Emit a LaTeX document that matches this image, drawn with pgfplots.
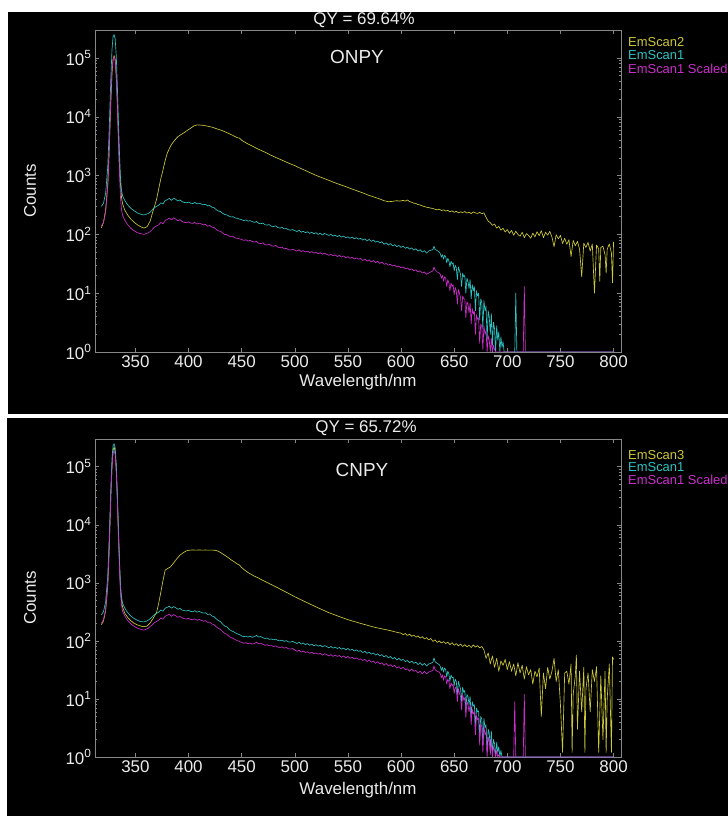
\documentclass[border=0pt]{standalone}
\usepackage{fontspec}
\setmainfont{Liberation Sans}
\usepackage{pgfplots}
\pgfplotsset{compat=1.18}
\definecolor{ylw}{RGB}{205,200,55}
\definecolor{cyn}{RGB}{45,195,195}
\definecolor{mag}{RGB}{205,45,205}
\definecolor{axgray}{RGB}{135,135,135}
\definecolor{txt}{RGB}{235,235,235}
\pgfplotsset{mypanel/.style={
  scale only axis, width=526bp,
  axis background/.style={fill=black},
  axis line style={draw=axgray, line width=0.6bp},
  every tick/.style={draw=axgray, line width=0.5bp},
  major tick length=4bp, minor tick length=2bp,
  tick align=inside,
  xtick={350,400,450,500,550,600,650,700,750,800},
  xticklabels={350,400,450,500,550,600,650,700,750,800},
  minor x tick num=0,
  ytick={1,10,100,1000,10000,100000},
  yticklabels={10\textsuperscript{0},10\textsuperscript{1},10\textsuperscript{2},10\textsuperscript{3},10\textsuperscript{4},10\textsuperscript{5}},
  tick label style={font=\fontsize{17}{17}\selectfont, text=txt},
  label style={font=\fontsize{17}{17}\selectfont, text=txt},
  xlabel={Wavelength/nm}, ylabel={Counts},
  ylabel style={at={(axis description cs:-0.1236,0.5)}, anchor=center},
  every axis plot/.append style={line width=0.65bp, mark=none, line join=round},
}}
\begin{document}
\begin{tikzpicture}
\fill[white] (0,0) rectangle (728bp,816bp);
\fill[black] (8bp,402bp) rectangle (728bp,804bp);
\fill[black] (7bp,0) rectangle (728bp,398bp);
% ---------------- top panel: ONPY ----------------
\begin{axis}[ymode=log, xmin=312, xmax=807, ymin=1, ymax=3e5, mypanel,
  at={(95bp,464bp)}, anchor=south west, height=322bp,
  xlabel style={at={(axis description cs:0.5,-0.093)}, anchor=center}]
\addplot[ylw] coordinates {(318,130)(320,160)(322,260)(324,700)(325,1800)(326,6000)(327,20000)(328,55000)(329,95000)(330,110000)(331,95000)(332,50000)(333,18000)(334,5000)(335,1500)(336,700)(337,420)(338,330)(340,260)(343,210)(346,180)(349,160)(352,145)(355,135)(358,128)(361,135)(364,170)(366,230)(368,300)(370,400)(372,600)(374,900)(376,1250)(378,1800)(380,2400)(382,2900)(384,3400)(386,3800)(388,4200)(390,4600)(393,5000)(396,5400)(399,5900)(402,6400)(405,7000)(408,7300)(411,7250)(414,7150)(417,7000)(420,6800)(423,6600)(426,6300)(429,6050)(432,5800)(435,5500)(438,5200)(441,4900)(444,4600)(446,4400)(448,4350)(450,4000)(453,3700)(456,3450)(459,3250)(462,3050)(465,2850)(468,2700)(471,2550)(474,2400)(477,2250)(480,2120)(484,1970)(488,1830)(492,1700)(496,1580)(500,1480)(505,1340)(510,1220)(515,1110)(520,1010)(525,930)(530,860)(535,790)(540,730)(545,680)(550,630)(555,580)(560,540)(565,500)(570,460)(575,430)(580,400)(584,375)(588,360)(592,365)(596,375)(598,368)
(600,372)(602,380)(604,368)(606,385)(608,362)(610,352)(612,340)(614,336)(616,322)(618,316)(620,305)(622,298)(624,290)(626,286)(628,280)(630,276)(632,268)(634,262)(636,268)(638,255)(640,262)(642,250)(644,256)(646,243)(648,252)(650,238)(652,247)(654,233)(656,241)(658,236)(660,245)(662,230)(664,239)(666,226)(668,241)(670,232)(672,227)(674,237)(676,225)(678,233)(680,195)(682,168)(684,158)(686,142)(688,150)(690,128)(692,137)(694,118)(696,127)(698,110)(700,121)(702,104)(704,117)(706,97)(708,113)(710,100)(712,93)(714,109)(716,88)(718,103)(720,96)(722,86)(724,105)(726,91)(728,111)(730,95)(732,116)(734,88)(736,109)(738,97)(740,113)(742,90)(744,62)(746,99)(748,84)(750,96)(752,70)(754,86)(756,68)(758,81)(760,42)(762,79)(764,64)(766,76)(768,56)(770,19)(772,71)(774,60)(776,73)(778,52)(780,69)(782,10)(784,66)(786,57)(787,16)(788,60)(790,63)(792,45)(793,22)(794,56)(796,69)(798,48)(799,15)(800,75)};
\addplot[cyn] coordinates {(318,300)(320,340)(322,500)(324,1400)(325,4000)(326,14000)(327,50000)(328,140000)(329,230000)(330,250000)(331,210000)(332,110000)(333,35000)(334,9000)(335,2500)(336,900)(337,560)(338,450)(340,380)(342,330)(344,300)(346,275)(348,258)(350,245)(352,232)(354,224)(356,218)(358,214)(360,220)(362,226)(364,240)(366,262)(368,285)(370,300)(372,315)(374,345)(376,330)(378,375)(380,390)(382,410)(384,380)(386,415)(388,395)(390,370)(392,385)(394,360)(396,350)(398,345)(400,355)(402,340)(404,335)(406,350)(408,330)(410,340)(412,330)(414,320)(416,325)(418,305)(420,310)(422,290)(424,285)(426,265)(428,250)(430,245)(432,230)(434,218)(436,215)(438,205)(440,198)(442,200)(444,190)(446,188)(448,182)(450,178)(452,172)(454,176)(456,168)(458,172)(460,165)(462,160)(464,166)(466,155)(468,152)(470,156)(472,146)(474,144)(476,147)(478,138)(480,136)(482,140)(484,131)(486,128)(488,132)(490,124)(492,126)(494,120)(496,118)(498,121)(500,116)(502,112)(504,118)(506,109)(508,113)(510,107)(512,111)(514,104)(516,109)(518,102)(520,107)(522,100)(524,105)(526,98)(528,104)(530,100)(532,96)(534,100)(536,94)(538,97)(540,92)(542,96)(544,90)(546,93)(548,88)(550,91)(552,86)(554,90)(556,84)(558,88)(560,83)(562,86)(564,80)(566,84)(568,78)(570,82)(572,76)(574,80)(576,74)(578,77)(580,72)(582,75)(584,68)(586,72)(588,66)(590,70)(592,64)(594,67)(596,62)(598,65)(600,60)(602,63)(604,58)(606,61)(608,56)(610,59)(612,54)(614,57)(616,52)(618,55)(620,50)(622,53)(624,48)(626,52)(628,54)(630,55)(631,63)(632,56)(634,53)(636,50)(637,47)(638,41)(639,45)(640,38)(641,44)(642,42)(643,33)(644,39)(645,36)(646,28)(647,35)(648,31)(649,33)(650,24)(651,30)(652,27)(653,17)(654,28)(655,24)(656,21)(657,13)(658,22)(659,19)(660,20)(661,10)(662,18)(663,16)(664,12)(665,17)(666,8)(667,14)(668,11)(669,13)(670,5)(671,11)(672,9)(673,10)(674,3.5)(675,8)(676,7)(677,2.5)(678,7.5)(679,5)(680,6)(681,1.6)(682,5)(683,4)(684,2)(685,4.5)(686,1.3)(687,3.2)(688,2.5)(689,1)(690,2.8)(691,1.6)(692,2.2)(693,1)(694,1.8)(695,1.2)(696,1.5)(697,1)(707,1)(708,10)(709,1)(800,1)};
\addplot[mag] coordinates {(318,140)(320,160)(322,240)(324,650)(325,1800)(326,6500)(327,23000)(328,62000)(329,95000)(330,105000)(331,90000)(332,48000)(333,16000)(334,4000)(335,1100)(336,420)(337,260)(338,210)(340,175)(342,152)(344,138)(346,126)(348,118)(350,112)(352,107)(354,104)(356,102)(358,100)(360,103)(362,106)(364,112)(366,122)(368,133)(370,140)(372,146)(374,160)(376,152)(378,172)(380,180)(382,190)(384,176)(386,192)(388,182)(390,170)(392,178)(394,166)(396,160)(398,158)(400,164)(402,156)(404,154)(406,160)(408,150)(410,156)(412,150)(414,146)(416,148)(418,138)(420,142)(422,133)(424,131)(426,122)(428,115)(430,113)(432,106)(434,100)(436,99)(438,94)(440,91)(442,92)(444,87)(446,86)(448,84)(450,82)(452,79)(454,81)(456,77)(458,79)(460,76)(462,74)(464,76)(466,71)(468,70)(470,72)(472,67)(474,66)(476,68)(478,64)(480,63)(482,65)(484,61)(486,59)(488,61)(490,57)(492,58)(494,55)(496,54)(498,56)(500,54)(502,52)(504,55)(506,51)(508,53)(510,50)(512,52)(514,49)(516,51)(518,48)(520,50)(522,47)(524,49)(526,46)(528,48)(530,46)(532,44)(534,46)(536,43)(538,45)(540,42)(542,44)(544,41)(546,43)(548,40)(550,42)(552,39)(554,41)(556,38)(558,40)(560,38)(562,39)(564,36)(566,38)(568,35)(570,37)(572,34)(574,36)(576,33)(578,35)(580,32)(582,34)(584,31)(586,32)(588,30)(590,31)(592,29)(594,30)(596,28)(598,29)(600,27)(602,28)(604,26)(606,27)(608,25)(610,26)(612,24)(614,25)(616,23)(618,24)(620,22)(622,23)(624,21)(626,22)(628,23)(630,24)(631,28)(632,25)(634,23)(636,22)(637,21)(638,18)(639,20)(640,16)(641,19)(642,18)(643,13)(644,17)(645,15)(646,11)(647,15)(648,13)(649,14)(650,9.5)(651,12.5)(652,11)(653,6.5)(654,11.5)(655,10)(656,8.5)(657,5)(658,9)(659,8)(660,8)(661,3.8)(662,7.2)(663,6.5)(664,4.6)(665,6.8)(666,3)(667,5.5)(668,4.4)(669,5)(670,2)(671,4.3)(672,3.6)(673,3.8)(674,1.4)(675,3)(676,2.7)(677,1.1)(678,2.8)(679,2)(680,2.3)(681,1)(682,1.9)(683,1.6)(684,1)(685,1.7)(686,1)(687,1.3)(688,1.1)(689,1)(692,1)(715,1)(716,13)(717,1)(800,1)};
\end{axis}
% ---------------- bottom panel: CNPY ----------------
\begin{axis}[ymode=log, xmin=312, xmax=807, ymin=1, ymax=3e5, mypanel,
  at={(95bp,59bp)}, anchor=south west, height=318bp,
  xlabel style={at={(axis description cs:0.5,-0.104)}, anchor=center}]
\addplot[ylw] coordinates {(318,190)(320,220)(322,330)(324,900)(325,2500)(326,9000)(327,35000)(328,100000)(329,190000)(330,220000)(331,180000)(332,90000)(333,30000)(334,8000)(335,2200)(336,750)(337,480)(338,380)(340,300)(343,250)(346,220)(349,200)(352,188)(355,180)(358,175)(361,180)(364,205)(367,250)(370,310)(372,450)(374,700)(376,1100)(378,1650)(380,1750)(383,1880)(386,2200)(389,2600)(392,3000)(395,3300)(398,3550)(401,3650)(404,3680)(407,3650)(410,3680)(413,3650)(416,3670)(419,3650)(422,3660)(425,3640)(428,3500)(431,3250)(434,3000)(437,2750)(440,2500)(443,2300)(446,2100)(448,2020)(450,1830)(453,1650)(456,1500)(459,1400)(462,1300)(465,1230)(468,1150)(471,1080)(474,1010)(477,950)(480,890)(484,820)(488,750)(492,690)(496,630)(500,575)(505,520)(510,470)(515,425)(520,385)(525,350)(530,318)(535,292)(540,270)(545,250)(550,232)(555,218)(560,205)(565,193)(570,182)(575,172)(580,164)(585,157)(590,150)(595,142)(598,138)
(600,136)(602,128)(604,134)(606,124)(608,130)(610,120)(612,126)(614,116)(616,122)(618,112)(620,118)(622,108)(624,114)(626,104)(628,110)(630,98)(632,104)(634,94)(636,100)(638,92)(640,97)(642,90)(644,95)(646,86)(648,93)(650,84)(652,90)(654,82)(656,88)(658,80)(660,86)(662,79)(664,84)(666,77)(668,85)(670,78)(672,83)(674,76)(676,80)(678,70)(680,50)(682,62)(684,40)(686,55)(688,35)(690,50)(692,30)(694,45)(696,38)(698,48)(700,32)(702,44)(704,30)(706,40)(708,25)(710,42)(712,28)(714,38)(716,22)(718,36)(720,26)(722,32)(724,18)(726,30)(728,24)(730,34)(732,5)(734,28)(736,15)(738,35)(740,22)(742,30)(744,50)(746,20)(748,32)(750,8)(752,1.2)(754,28)(756,30)(758,18)(760,40)(761,1.2)(762,12)(764,25)(765,57)(766,3)(768,30)(770,6)(772,35)(773,1.2)(774,15)(776,28)(778,6)(780,32)(782,20)(784,36)(786,1.2)(788,25)(790,2)(792,30)(793,1.2)(794,10)(796,40)(798,1.2)(799,53)(800,48)};
\addplot[cyn] coordinates {(318,280)(320,320)(322,470)(324,1300)(325,3800)(326,13000)(327,48000)(328,140000)(329,230000)(330,250000)(331,210000)(332,110000)(333,35000)(334,9000)(335,2600)(336,900)(337,560)(338,440)(340,370)(342,320)(344,290)(346,265)(348,248)(350,236)(352,226)(354,218)(356,214)(358,212)(360,218)(362,226)(364,242)(366,262)(368,284)(370,298)(372,312)(374,340)(376,325)(378,365)(380,378)(382,395)(384,365)(386,390)(388,372)(390,350)(392,362)(394,340)(396,332)(398,328)(400,336)(402,322)(404,318)(406,330)(408,312)(410,322)(412,310)(414,300)(416,305)(418,285)(420,290)(422,268)(424,262)(426,240)(428,225)(430,215)(432,195)(434,180)(436,175)(438,160)(440,150)(442,145)(444,138)(446,132)(448,128)(450,122)(452,118)(454,121)(456,116)(458,120)(460,115)(462,118)(464,124)(466,116)(468,119)(470,113)(472,110)(474,112)(476,106)(478,108)(480,104)(482,107)(484,102)(486,100)(488,103)(490,98)(492,101)(494,96)(496,95)(498,98)(500,94)(502,90)(504,95)(506,88)(508,92)(510,86)(512,90)(514,84)(516,88)(518,82)(520,86)(522,81)(524,84)(526,79)(528,83)(530,80)(532,76)(534,80)(536,75)(538,78)(540,74)(542,77)(544,72)(546,75)(548,70)(550,74)(552,69)(554,72)(556,67)(558,70)(560,66)(562,68)(564,63)(566,66)(568,61)(570,64)(572,59)(574,62)(576,57)(578,60)(580,55)(582,58)(584,53)(586,56)(588,51)(590,54)(592,49)(594,52)(596,47)(598,50)(600,46)(602,48)(604,44)(606,46)(608,42)(610,45)(612,41)(614,43)(616,39)(618,42)(620,38)(622,41)(624,37)(626,40)(628,41)(630,43)(631,51)(632,44)(634,41)(636,39)(637,36)(638,31)(639,35)(640,29)(641,34)(642,32)(643,24)(644,30)(645,27)(646,20)(647,26)(648,23)(649,24)(650,17)(651,22)(652,20)(653,12)(654,20)(655,17)(656,15)(657,9)(658,16)(659,13)(660,14)(661,6.5)(662,12)(663,11)(664,8)(665,11)(666,5)(667,9)(668,7.5)(669,8)(670,3.2)(671,7)(672,6)(673,6.2)(674,2.2)(675,5)(676,4.5)(677,1.6)(678,4.6)(679,3.2)(680,3.6)(681,1.2)(682,3)(683,2.6)(684,1.4)(685,2.8)(686,1.1)(687,2)(688,1.7)(689,1)(690,1.8)(691,1.2)(692,1.5)(693,1)(694,1.3)(695,1)(800,1)};
\addplot[mag] coordinates {(318,200)(320,235)(322,345)(324,950)(325,2800)(326,9500)(327,35000)(328,100000)(329,170000)(330,190000)(331,160000)(332,80000)(333,26000)(334,6500)(335,1900)(336,660)(337,410)(338,320)(340,270)(342,235)(344,212)(346,195)(348,182)(350,173)(352,165)(354,160)(356,156)(358,154)(360,158)(362,165)(364,177)(366,190)(368,206)(370,216)(372,228)(374,248)(376,236)(378,266)(380,276)(382,288)(384,265)(386,284)(388,270)(390,255)(392,264)(394,248)(396,242)(398,238)(400,245)(402,234)(404,232)(406,240)(408,226)(410,234)(412,226)(414,218)(416,222)(418,208)(420,211)(422,195)(424,190)(426,175)(428,165)(430,158)(432,145)(434,135)(436,130)(438,120)(440,114)(442,110)(444,105)(446,101)(448,98)(450,94)(452,91)(454,93)(456,89)(458,92)(460,88)(462,90)(464,95)(466,89)(468,91)(470,87)(472,84)(474,86)(476,82)(478,83)(480,80)(482,82)(484,78)(486,77)(488,79)(490,75)(492,77)(494,73)(496,72)(498,74)(500,70)(502,66)(504,69)(506,64)(508,67)(510,63)(512,65)(514,61)(516,64)(518,60)(520,62)(522,59)(524,61)(526,57)(528,60)(530,58)(532,55)(534,58)(536,54)(538,57)(540,54)(542,56)(544,52)(546,55)(548,51)(550,54)(552,50)(554,52)(556,49)(558,51)(560,48)(562,49)(564,46)(566,48)(568,44)(570,47)(572,43)(574,45)(576,41)(578,44)(580,40)(582,42)(584,38)(586,41)(588,37)(590,39)(592,36)(594,38)(596,34)(598,36)(600,33)(602,35)(604,32)(606,33)(608,30)(610,33)(612,30)(614,31)(616,28)(618,30)(620,27)(622,30)(624,27)(626,29)(628,30)(630,31)(631,37)(632,32)(634,30)(636,29)(637,27)(638,23)(639,26)(640,21)(641,25)(642,24)(643,18)(644,22)(645,20)(646,15)(647,19)(648,17)(649,18)(650,12.5)(651,16)(652,15)(653,9)(654,15)(655,12.5)(656,11)(657,6.5)(658,12)(659,9.5)(660,10.5)(661,4.8)(662,9)(663,8)(664,6)(665,8)(666,3.6)(667,6.6)(668,5.5)(669,6)(670,2.4)(671,5.2)(672,4.4)(673,4.6)(674,1.6)(675,3.7)(676,3.3)(677,1.2)(678,3.4)(679,2.4)(680,2.7)(681,1)(682,2.2)(683,1.9)(684,1.1)(685,2)(686,1)(687,1.5)(688,1.3)(689,1)(690,1.3)(691,1)(692,1.1)(693,1)(706,1)(707,9)(708,1)(715,1)(716,12)(717,1)(800,1)};
\end{axis}
% ---------------- titles and legends ----------------
\node[text=txt, font=\fontsize{17}{17}\selectfont] at (364bp,796bp) {QY = 69.64\%};
\node[text=txt, font=\fontsize{19}{19}\selectfont] at (357bp,759bp) {ONPY};
\node[anchor=west, inner sep=0pt, text=ylw, font=\fontsize{13}{13}\selectfont] at (628bp,774bp) {EmScan2};
\node[anchor=west, inner sep=0pt, text=cyn, font=\fontsize{13}{13}\selectfont] at (628bp,760.5bp) {EmScan1};
\node[anchor=west, inner sep=0pt, text=mag, font=\fontsize{13}{13}\selectfont] at (628bp,747bp) {EmScan1 Scaled};
\node[text=txt, font=\fontsize{17}{17}\selectfont] at (366bp,388bp) {QY = 65.72\%};
\node[text=txt, font=\fontsize{19}{19}\selectfont] at (362bp,346bp) {CNPY};
\node[anchor=west, inner sep=0pt, text=ylw, font=\fontsize{13}{13}\selectfont] at (628bp,361bp) {EmScan3};
\node[anchor=west, inner sep=0pt, text=cyn, font=\fontsize{13}{13}\selectfont] at (628bp,348.5bp) {EmScan1};
\node[anchor=west, inner sep=0pt, text=mag, font=\fontsize{13}{13}\selectfont] at (628bp,336bp) {EmScan1 Scaled};
\end{tikzpicture}
\end{document}
